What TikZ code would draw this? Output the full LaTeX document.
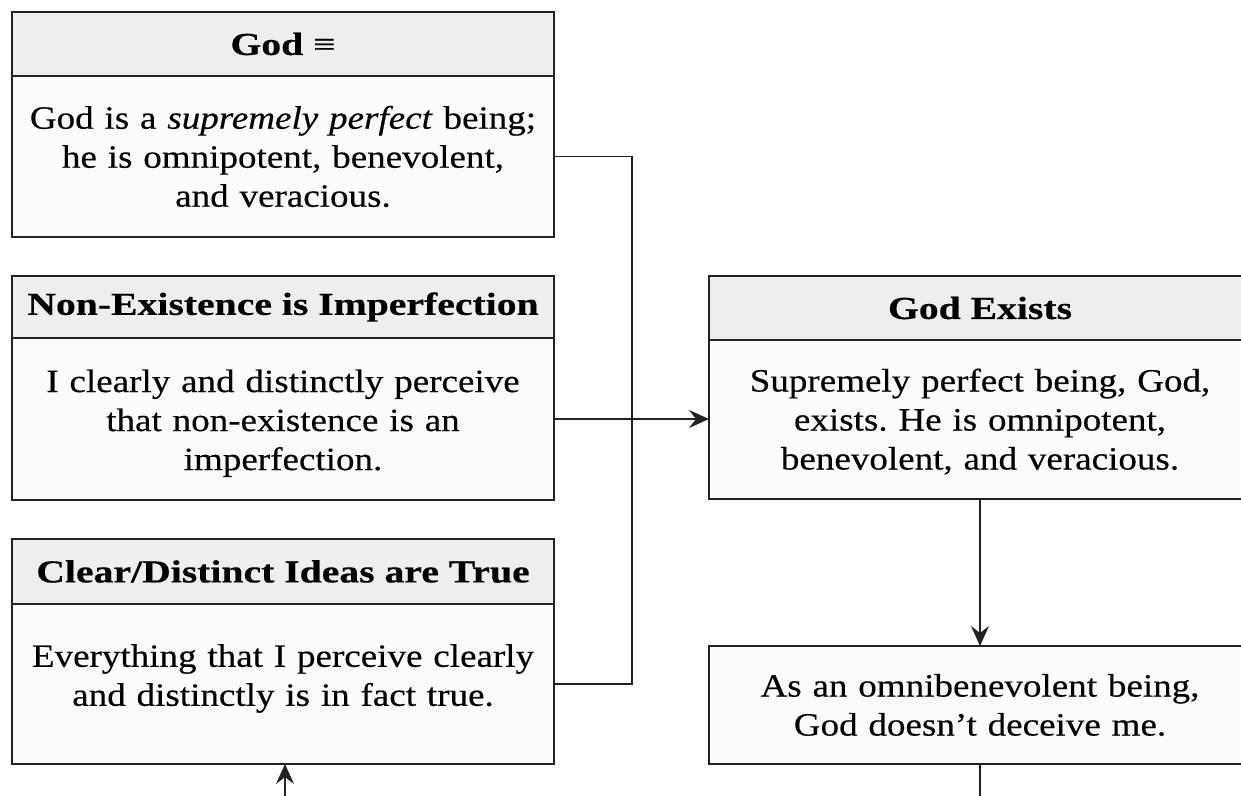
\documentclass[tikz,border=0pt]{standalone}
\usepackage{fontspec}
\setmainfont{Liberation Serif}[FakeStretch=1.14, FakeBold=0.35]
\newfontfamily\hdfont{Liberation Serif}[FakeStretch=1.24, FakeBold=0.4]
\usetikzlibrary{arrows.meta}
\definecolor{bdr}{HTML}{222222}
\definecolor{hdrfill}{HTML}{EEEEEE}
\definecolor{bodfill}{HTML}{FBFBFB}
\frenchspacing
\begin{document}
\begin{tikzpicture}[x=1pt,y=-1pt,
  hdr/.style={draw=bdr, fill=hdrfill, line width=2pt, minimum width=542pt, inner sep=0pt, outer sep=0pt, anchor=north west, font=\hdfont\bfseries\fontsize{32}{38}\selectfont},
  bod/.style={draw=bdr, fill=bodfill, line width=2pt, minimum width=542pt, text width=530pt, align=center, inner sep=0pt, outer sep=0pt, anchor=north west, font=\fontsize{32.5}{39}\selectfont},
  conn/.style={draw=bdr, line width=1.8pt},
  arr/.style={conn, -{Stealth[length=20pt,width=18pt,inset=7pt]}}]
\useasboundingbox (0,0) rectangle (1241,795);
\fill[white] (0,0) rectangle (1241,795);
\clip (0,0) rectangle (1241,795);
% left column
\node[hdr, minimum height=64pt] (h1) at (12,12) {God {\mdseries≡}};
\node[bod, minimum height=161pt] (b1) at (12,76) {God is a \textit{supremely perfect} being;\\he is omnipotent, benevolent,\\and veracious.};
\node[hdr, minimum height=62pt] (h2) at (12,276) {Non-Existence is Imperfection};
\node[bod, minimum height=162pt] (b2) at (12,338) {\rule{0pt}{31pt}I clearly and distinctly perceive\\that non-existence is an\\imperfection.};
\node[hdr, minimum height=65pt] (h3) at (12,539) {Clear/Distinct Ideas are True};
\node[bod, minimum height=160pt] (b3) at (12,604) {Everything that I perceive clearly\\and distinctly is in fact true.\rule[-18pt]{0pt}{1pt}};
% right column
\node[hdr, minimum height=64pt] (h4) at (709,276) {God Exists};
\node[bod, minimum height=159pt] (b4) at (709,340) {\rule{0pt}{27pt}Supremely perfect being, God,\\exists. He is omnipotent,\\benevolent, and veracious.};
\node[bod, minimum height=118pt] (b5) at (709,646) {As an omnibenevolent being,\\God doesn’t deceive me.};
% connectors
\draw[conn] (b1.east) -- ++(78,0) |- (b3.east);
\draw[arr] (b2.east) -- (b2.east -| b4.west);
\draw[arr] (b4.south) -- (b5.north);
\coordinate (bot1) at (285,800);
\coordinate (bot2) at (980,800);
\draw[arr] (bot1) -- (bot1 |- b3.south);
\draw[conn] (b5.south) -- (b5.south |- bot2);
\end{tikzpicture}
\end{document}
